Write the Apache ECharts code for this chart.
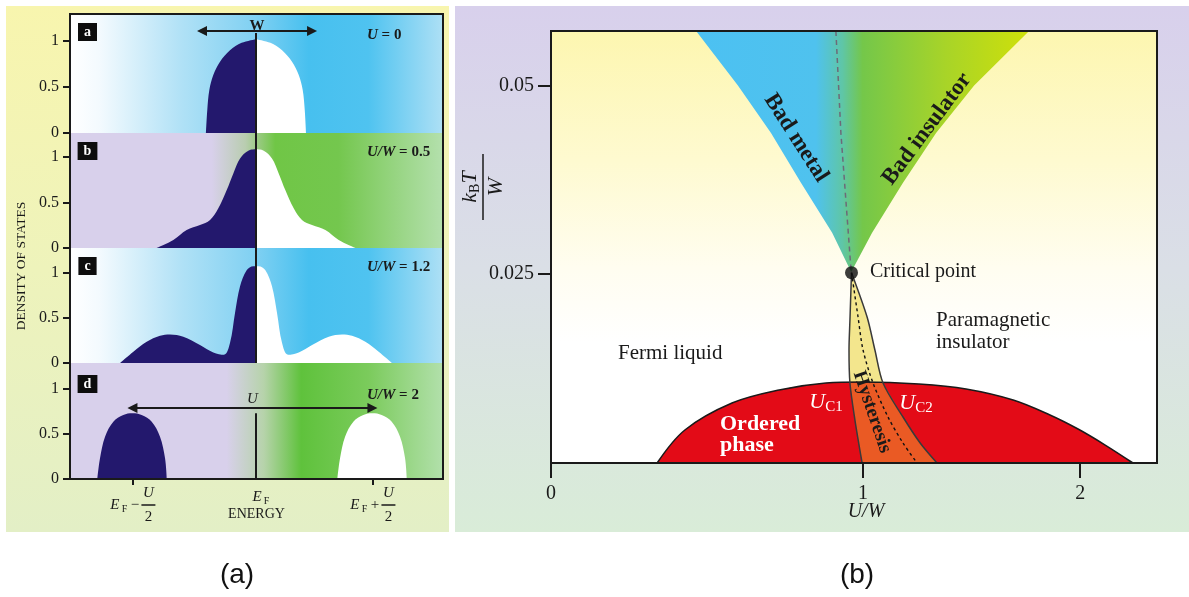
<!DOCTYPE html>
<html><head><meta charset="utf-8">
<script src="https://cdn.jsdelivr.net/npm/echarts@6/dist/echarts.min.js"></script>
<style>html,body{margin:0;padding:0;background:#fff}#c{width:1189px;height:597px}</style>
</head><body><div id="c"></div><script>
// ---------- Panel (a): density of states (x = energy, E_F = 0, unit = U/2 of panel d) ----------
const dosA_occ = [[-0.417,0],[-0.406,0.25],[-0.389,0.467],[-0.356,0.63],[-0.3,0.775],[-0.217,0.9],[-0.12,0.98],[0,1.02]];
const dosA_emp = [[0,1.02],[0.12,0.98],[0.217,0.9],[0.3,0.775],[0.356,0.63],[0.389,0.467],[0.406,0.25],[0.417,0]];
const dosB_occ = [[-0.828,0],[-0.689,0.088],[-0.578,0.198],[-0.467,0.253],[-0.383,0.308],[-0.314,0.436],[-0.244,0.637],[-0.189,0.82],[-0.133,0.985],[-0.064,1.07],[0,1.085]];
const dosB_emp = [[0,1.085],[0.064,1.07],[0.133,0.985],[0.189,0.82],[0.244,0.637],[0.314,0.436],[0.383,0.308],[0.467,0.253],[0.578,0.198],[0.689,0.088],[0.828,0]];
const dosC_occ = [[-1.133,0],[-1.022,0.126],[-0.911,0.237],[-0.8,0.304],[-0.717,0.318],[-0.606,0.293],[-0.467,0.2],[-0.356,0.118],[-0.267,0.092],[-0.217,0.222],[-0.175,0.556],[-0.133,0.852],[-0.078,1.03],[-0.022,1.074],[0,1.074]];
const dosC_emp = [[0,1.074],[0.022,1.074],[0.078,1.03],[0.133,0.852],[0.175,0.556],[0.217,0.222],[0.267,0.092],[0.356,0.118],[0.467,0.2],[0.606,0.293],[0.717,0.318],[0.8,0.304],[0.911,0.237],[1.022,0.126],[1.133,0]];
const dosD_occ = [[-1.322,0],[-1.3,0.23],[-1.258,0.47],[-1.189,0.637],[-1.106,0.711],[-1.03,0.73],[-0.953,0.711],[-0.869,0.637],[-0.8,0.47],[-0.758,0.23],[-0.744,0]];
const dosD_emp = [[0.678,0],[0.7,0.23],[0.742,0.47],[0.811,0.637],[0.894,0.711],[0.97,0.73],[1.047,0.711],[1.131,0.637],[1.2,0.47],[1.242,0.23],[1.256,0]];
const dosTicks = [0, 0.5, 1];
const energyTickPos = [-1.03, 0, 0.97];
const panelLabels = ['a','b','c','d'];
const panelTitles = [['U',' = 0'],['U/W',' = 0.5'],['U/W',' = 1.2'],['U/W',' = 2']];
const fermiLineTop = [1.087, 1.264, 1.278, 0.73];
const wArrow = [[-0.45,1.109],[0.467,1.109]];
const uArrow = [[-1.03,0.79],[0.97,0.79]];

// ---------- Panel (b): phase diagram (x in drawn U/W units, y = k_B T / W) ----------
const uwTickPos = [0, 1, 1.696];
const uwTickLabels = ['0','1','2'];
const tTickPos = [0.025, 0.05];
const tTickLabels = ['0.025','0.05'];
const coneLeft = [[0.465,0.0572],[0.599,0.0500],[0.705,0.0437],[0.801,0.0371],[0.901,0.0305],[0.962,0.0253]];
const coneRight = [[0.962,0.0253],[1.029,0.0305],[1.128,0.0371],[1.234,0.0437],[1.356,0.0500],[1.532,0.0572]];
const coneMid = [[0.913,0.0572],[0.929,0.0437],[0.962,0.0253]];
const dome = [[0.340,0],[0.429,0.00437],[0.580,0.00794],[0.731,0.00967],[0.881,0.01059],[1.0,0.01073],[1.179,0.01046],[1.330,0.0098],[1.481,0.00834],[1.599,0.00636],[1.689,0.0045],[1.776,0.00238],[1.865,0]];
const uc1 = [[0.963,0.0252],[0.958,0.01893],[0.955,0.01496],[0.958,0.01059],[0.974,0.00569],[0.997,0]];
const uc2 = [[0.963,0.0252],[1.013,0.01933],[1.038,0.01496],[1.064,0.01059],[1.128,0.00609],[1.183,0.00265],[1.237,0]];
const ucMid = [[0.963,0.0252],[0.984,0.01933],[1.0,0.01496],[1.032,0.01059],[1.080,0.00609],[1.128,0.00265],[1.173,0]];
const criticalPoint = [[0.963,0.0252]];
const domeTop = 0.0107;

// ---------- rendering ----------
const serif = 'Liberation Serif';
const ink = '#1a1a1a';
const navy = '#23186d';
const hg = (stops) => ({type:'linear',x:0,y:0,x2:1,y2:0,colorStops:stops.map(([o,c])=>({offset:o,color:c}))});
const vg = (stops) => ({type:'linear',x:0,y:0,x2:0,y2:1,colorStops:stops.map(([o,c])=>({offset:o,color:c}))});

const subTop = [14,133,248,363], subH = [119,115,115,116], subMax = [1.293,1.264,1.278,1.289];
const blueBg = hg([[0,'#ffffff'],[0.08,'#f3fafe'],[0.3,'#b0e1f6'],[0.5,'#7fd0f2'],[0.64,'#47c0ef'],[0.8,'#4fc3f0'],[1,'#aee0f5']]);
const subBg = [
  blueBg,
  hg([[0,'#d8d0eb'],[0.38,'#d8d0eb'],[0.47,'#b9cdb0'],[0.55,'#70c646'],[0.72,'#74c74e'],[1,'#b4e0ad']]),
  blueBg,
  hg([[0,'#d8d0eb'],[0.42,'#d8d0eb'],[0.52,'#b6d3aa'],[0.62,'#5fc23c'],[0.8,'#7bcb5c'],[1,'#b2e0ab']])
];
const occ = [dosA_occ,dosB_occ,dosC_occ,dosD_occ];
const emp = [dosA_emp,dosB_emp,dosC_emp,dosD_emp];

const grids = [], xAxes = [], yAxes = [], series = [];
for (let i = 0; i < 4; i++) {
  grids.push({left:70, top:subTop[i], width:373, height:subH[i], show:true, backgroundColor:subBg[i], borderWidth:0});
  const xa = {gridIndex:i, type:'value', min:-1.55, max:1.558, splitLine:{show:false}, axisLine:{show:false, onZero:false}};
  if (i < 3) { xa.axisTick = {show:false}; xa.axisLabel = {show:false}; }
  else {
    xa.axisTick = {show:true, customValues:[energyTickPos[0], energyTickPos[2]], length:6, lineStyle:{color:ink,width:2}};
    xa.axisLabel = {customValues:energyTickPos, margin:10, color:ink,
      formatter:(v)=> v < -0.5 ? '{sp| }{u|U}\n{e|E}{f|F}{m|−}{bar| }\n{sp| }{d|2}'
                   : v > 0.5 ? '{sp| }{u|U}\n{e|E}{f|F}{m|+}{bar| }\n{sp| }{d|2}'
                   : '{g| }{e|E}{f|F}',
      rich:{
        g:{width:10,fontSize:8,lineHeight:16},
        e:{fontFamily:serif,fontStyle:'italic',fontSize:15,lineHeight:16,width:11,align:'right',color:ink},
        f:{fontFamily:serif,fontSize:10,lineHeight:16,width:8,align:'left',padding:[8,0,0,0],color:ink},
        m:{fontFamily:serif,fontSize:15,lineHeight:16,width:13,align:'center',color:ink},
        bar:{width:14,height:1.5,lineHeight:2,fontSize:2,backgroundColor:ink},
        sp:{width:32,fontSize:8,lineHeight:8},
        u:{fontFamily:serif,fontStyle:'italic',fontSize:15,lineHeight:8,width:14,align:'center',color:ink},
        d:{fontFamily:serif,fontSize:15,lineHeight:8,width:14,align:'center',color:ink}
      }};
    xa.name = 'ENERGY'; xa.nameLocation = 'middle'; xa.nameGap = 28; xa.nameMoveOverlap = false;
    xa.nameTextStyle = {fontFamily:serif, fontSize:14, color:ink};
  }
  xAxes.push(xa);
  yAxes.push({gridIndex:i, type:'value', min:0, max:subMax[i], splitLine:{show:false}, axisLine:{show:false, onZero:false},
    axisTick:{show:true, customValues:dosTicks, length:7, lineStyle:{color:ink,width:2}},
    axisLabel:{customValues:dosTicks, fontFamily:serif, fontSize:16, color:ink, margin:11}});
  const base = {type:'line', xAxisIndex:i, yAxisIndex:i, smooth:0.35, showSymbol:false, silent:true, animation:false};
  series.push(Object.assign({}, base, {data:occ[i], z:3, lineStyle:{width:0,color:navy}, areaStyle:{color:navy,opacity:1},
    markLine:{silent:true, symbol:['none','none'], animation:false, label:{show:false},
      lineStyle:{color:ink,width:2,type:'solid'},
      data:[[{coord:[0,0]},{coord:[0,fermiLineTop[i]]}]]}}));
  const ser = Object.assign({}, base, {data:emp[i], z:3, lineStyle:{width:0,color:'#fff'}, areaStyle:{color:'#ffffff',opacity:1}});
  if (i === 0 || i === 3) {
    const arr = i === 0 ? wArrow : uArrow;
    ser.markLine = {silent:true, animation:false, symbol:['triangle','triangle'], symbolSize:10,
      lineStyle:{color:ink,width:2,type:'solid'},
      label:{show:true, position:'middle', distance: i === 0 ? -3 : 1, formatter: i === 0 ? 'W' : 'U',
        fontFamily:serif, fontSize:15, fontWeight: i===0 ? 'bold':'normal', fontStyle: i===0 ? 'normal':'italic', color:ink},
      data:[[{coord:arr[0]},{coord:arr[1]}]]};
  }
  series.push(ser);
}
// frame of panel (a)
grids.push({left:70, top:14, width:373, height:465, show:true, backgroundColor:'transparent', borderColor:ink, borderWidth:2, z:10});
xAxes.push({gridIndex:4, type:'value', show:false, min:0, max:1});
yAxes.push({gridIndex:4, type:'value', show:false, min:0, max:1});

// panel (b)
grids.push({left:551, top:31, width:606, height:432, show:true, borderWidth:0,
  backgroundColor: vg([[0,'#fdf6b0'],[0.3,'#fefad0'],[0.55,'#fffdf0'],[0.72,'#ffffff'],[1,'#ffffff']])});
xAxes.push({gridIndex:5, type:'value', min:0, max:1.942, splitLine:{show:false}, axisLine:{show:false, onZero:false},
  axisTick:{show:true, customValues:uwTickPos, length:15, lineStyle:{color:ink,width:2}},
  axisLabel:{customValues:uwTickPos, margin:21, fontFamily:serif, fontSize:20, color:ink,
    formatter:(v)=> uwTickLabels[uwTickPos.findIndex(t=>Math.abs(t-v)<1e-6)]}});
yAxes.push({gridIndex:5, type:'value', min:0, max:0.0572, splitLine:{show:false}, axisLine:{show:false, onZero:false},
  axisTick:{show:true, customValues:tTickPos, length:13, lineStyle:{color:ink,width:2}},
  axisLabel:{customValues:tTickPos, margin:17, fontFamily:serif, fontSize:20, color:ink,
    formatter:(v)=> tTickLabels[tTickPos.findIndex(t=>Math.abs(t-v)<1e-9)]}});
grids.push({left:551, top:31, width:606, height:432, show:true, backgroundColor:'transparent', borderColor:ink, borderWidth:2, z:10});
xAxes.push({gridIndex:6, type:'value', show:false, min:0, max:1});
yAxes.push({gridIndex:6, type:'value', show:false, min:0, max:1});

function poly(points, style, z) {
  return {type:'custom', xAxisIndex:5, yAxisIndex:5, z:z, silent:true, animation:false, clip:true, data:[[0,0]],
    renderItem:(params, api) => ({type:'polygon', shape:{points:points.map(p=>api.coord(p))}, style:style})};
}
const pb = {type:'line', xAxisIndex:5, yAxisIndex:5, showSymbol:false, silent:true, animation:false};
series.push(poly(coneLeft.concat(coneRight.slice(1)), {fill: hg([[0,'#4cc1f2'],[0.36,'#4fc2ee'],[0.44,'#5fc6a6'],[0.5,'#74c74a'],[0.75,'#a8d428'],[1,'#cfe00a']])}, 2));
series.push(Object.assign({}, pb, {data:coneMid, z:3, lineStyle:{color:'#6d6a78',width:1.5,type:[5,4]}}));
series.push(poly(uc1.concat(uc2.slice().reverse()), {fill:'#f3e68d'}, 3));
series.push(Object.assign({}, pb, {data:dome, z:4, smooth:0.35, lineStyle:{color:ink,width:1.5}, areaStyle:{color:'#e30b17',opacity:1}}));
series.push(poly(uc1.filter(p=>p[1]<=domeTop).concat(uc2.filter(p=>p[1]<=domeTop).reverse()), {fill:'#ea5a24'}, 5));
series.push(Object.assign({}, pb, {data:uc1, z:6, smooth:0.3, lineStyle:{color:'#3a3a3a',width:1.5}}));
series.push(Object.assign({}, pb, {data:uc2, z:6, smooth:0.3, lineStyle:{color:'#3a3a3a',width:1.5}}));
series.push(Object.assign({}, pb, {data:ucMid, z:6, smooth:0.3, lineStyle:{color:'#111',width:1.4,type:[3,3]}}));
series.push({type:'scatter', xAxisIndex:5, yAxisIndex:5, data:criticalPoint, symbolSize:13, itemStyle:{color:'#0d0d0d'}, z:7, silent:true, animation:false});

// ---------- annotations ----------
const ctext = (x, y, text, font, rot, fill) => ({type:'text', x:x, y:y, rotation:rot||0, z:100, silent:true,
  style:{text:text, font:font, fill:fill||ink, align:'center', verticalAlign:'middle'}});
const ltext = (x, y, text, font) => ({type:'text', x:x, y:y, z:100, silent:true,
  style:{text:text, font:font, fill:ink, align:'left', verticalAlign:'middle'}});
const graphics = [
  {type:'rect', z:-10, silent:true, shape:{x:6,y:6,width:443,height:526}, style:{fill:vg([[0,'#f8f5ae'],[0.5,'#eef3bb'],[1,'#e3efc6']])}},
  {type:'rect', z:-10, silent:true, shape:{x:455,y:6,width:734,height:526}, style:{fill:vg([[0,'#d8d0ec'],[0.5,'#dadfe6'],[1,'#d9ecd8']])}},
  ctext(237, 575, '(a)', '28px Liberation Sans', 0, '#111'),
  ctext(857, 575, '(b)', '28px Liberation Sans', 0, '#111'),
  ctext(21, 266, 'DENSITY OF STATES', '13.5px '+serif, Math.PI/2)
];
const boxY = [32,151,266,384], titleY = [35,152,267,395];
for (let i = 0; i < 4; i++) {
  graphics.push({type:'text', x:87.5, y:boxY[i], z:100, silent:true, style:{text:panelLabels[i], font:'bold 14px '+serif, fill:'#fff',
    backgroundColor:'#0d0d0d', padding:[2,6,2,6], align:'center', verticalAlign:'middle'}});
  graphics.push({type:'text', x:367, y:titleY[i], z:100, silent:true, style:{text:'{i|'+panelTitles[i][0]+'}{n|'+panelTitles[i][1]+'}',
    align:'left', verticalAlign:'middle', font:'bold 15px '+serif, fill:ink,
    rich:{i:{font:'italic bold 15px '+serif, fill:ink}, n:{font:'bold 15px '+serif, fill:ink}}}});
}
const subRich = (main, sub) => ({u:{font:main, fill:'#fff', lineHeight:24}, s:{font:sub, fill:'#fff', lineHeight:24, padding:[10,0,0,0]}});
graphics.push(
  ctext(796, 138, 'Bad metal', 'bold 23px '+serif, -1.0),
  ctext(927, 129, 'Bad insulator', 'bold 23px '+serif, 0.93),
  ctext(872, 412, 'Hysteresis', 'bold 19.5px '+serif, -1.24),
  ltext(870, 272, 'Critical point', '20px '+serif),
  ltext(618, 353, 'Fermi liquid', '21px '+serif),
  {type:'text', x:936, y:331, z:100, silent:true, style:{text:'Paramagnetic\ninsulator', font:'21px '+serif, fill:ink, lineHeight:22, align:'left', verticalAlign:'middle'}},
  {type:'text', x:720, y:435, z:100, silent:true, style:{text:'Ordered\nphase', font:'bold 22px '+serif, fill:'#fff', lineHeight:21, align:'left', verticalAlign:'middle'}},
  {type:'text', x:826, y:402, z:100, silent:true, style:{text:'{u|U}{s|C1}', align:'center', verticalAlign:'middle', fill:'#fff',
    rich:subRich('italic 22px '+serif, '15px '+serif)}},
  {type:'text', x:916, y:403, z:100, silent:true, style:{text:'{u|U}{s|C2}', align:'center', verticalAlign:'middle', fill:'#fff',
    rich:subRich('italic 22px '+serif, '15px '+serif)}},
  ctext(866, 512, 'U/W', 'italic 20px '+serif),
  {type:'group', x:483, y:187, rotation:Math.PI/2, z:100, children:[
    {type:'text', x:0, y:-13, silent:true, style:{text:'{i|k}{s|B}{i|T}', align:'center', verticalAlign:'middle', fill:ink,
      rich:{i:{font:'italic 22px '+serif, fill:ink, lineHeight:24}, s:{font:'14px '+serif, fill:ink, lineHeight:24, padding:[10,0,0,0]}}}},
    {type:'line', silent:true, shape:{x1:-33,y1:0,x2:33,y2:0}, style:{stroke:ink, lineWidth:1.5}},
    {type:'text', x:0, y:13, silent:true, style:{text:'W', font:'italic 22px '+serif, fill:ink, align:'center', verticalAlign:'middle'}}
  ]}
);

const chart = echarts.init(document.getElementById('c'), null, {width:1189, height:597});
chart.setOption({animation:false, backgroundColor:'#ffffff', grid:grids, xAxis:xAxes, yAxis:yAxes, series:series, graphic:graphics});
</script></body></html>
